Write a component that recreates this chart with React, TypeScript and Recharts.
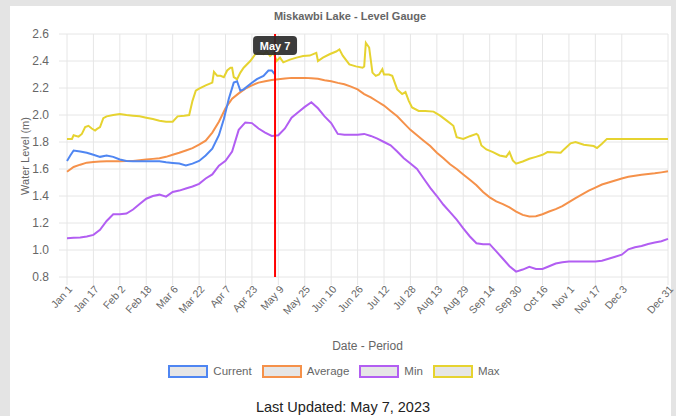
import { LineChart, Line, XAxis, YAxis, CartesianGrid, ReferenceLine } from 'recharts';

const FONT = '"Liberation Sans", Arial, Helvetica, sans-serif';

// day of year (Jan 1 = 0) for the x-axis ticks
const tickDays = [0, 16, 32, 48, 64, 80, 96, 112, 128, 144, 160, 176, 192, 208, 224, 240, 256, 272, 288, 304, 320, 336, 364];
const tickLabels = ['Jan 1', 'Jan 17', 'Feb 2', 'Feb 18', 'Mar 6', 'Mar 22', 'Apr 7', 'Apr 23', 'May 9', 'May 25', 'Jun 10', 'Jun 26', 'Jul 12', 'Jul 28', 'Aug 13', 'Aug 29', 'Sep 14', 'Sep 30', 'Oct 16', 'Nov 1', 'Nov 17', 'Dec 3', 'Dec 31'];
const levelTicks = [0.8, 1.0, 1.2, 1.4, 1.6, 1.8, 2.0, 2.2, 2.4, 2.6];

const days = [
  0, 4, 8, 12, 16, 20, 24, 28, 32, 36, 40, 44, 48, 52, 56, 60,
  64, 68, 72, 76, 80, 84, 88, 92, 96, 100, 104, 108, 112, 116, 120, 124,
  128, 132, 136, 140, 144, 148, 152, 156, 160, 164, 168, 172, 176, 180, 184, 188,
  192, 196, 200, 204, 208, 212, 216, 220, 224, 228, 232, 236, 240, 244, 248, 252,
  256, 260, 264, 268, 272, 276, 280, 284, 288, 292, 296, 300, 304, 308, 312, 316,
  320, 324, 328, 332, 336, 340, 344, 348, 352, 356, 360, 364,
];

const average = [
  1.58, 1.615, 1.632, 1.647, 1.652, 1.655, 1.657, 1.657,
  1.658, 1.66, 1.66, 1.665, 1.67, 1.675, 1.68, 1.69,
  1.705, 1.72, 1.737, 1.755, 1.78, 1.81, 1.87, 1.95,
  2.05, 2.12, 2.16, 2.195, 2.22, 2.24, 2.25, 2.26,
  2.265, 2.27, 2.275, 2.275, 2.275, 2.273, 2.268, 2.258,
  2.25, 2.238, 2.228, 2.21, 2.19, 2.155, 2.13, 2.1,
  2.07, 2.03, 1.99, 1.94, 1.89, 1.85, 1.81, 1.77,
  1.72, 1.68, 1.635, 1.6, 1.56, 1.52, 1.48, 1.43,
  1.39, 1.36, 1.34, 1.315, 1.285, 1.26, 1.248, 1.25,
  1.265, 1.285, 1.303, 1.325, 1.355, 1.385, 1.412, 1.44,
  1.462, 1.485, 1.5, 1.515, 1.53, 1.542, 1.55, 1.558,
  1.563, 1.568, 1.575, 1.583,
];

const minimum = [
  1.087, 1.09, 1.092, 1.1, 1.112, 1.15, 1.215, 1.264,
  1.264, 1.27, 1.3, 1.34, 1.38, 1.4, 1.41, 1.395,
  1.43, 1.44, 1.455, 1.47, 1.49, 1.53, 1.56, 1.625,
  1.66, 1.73, 1.89, 1.945, 1.94, 1.9, 1.87, 1.845,
  1.85, 1.9, 1.98, 2.02, 2.06, 2.095, 2.05, 1.99,
  1.94, 1.86, 1.853, 1.853, 1.853, 1.86, 1.845, 1.825,
  1.8, 1.775, 1.73, 1.68, 1.64, 1.6, 1.53, 1.46,
  1.4, 1.335, 1.28, 1.225, 1.16, 1.1, 1.05, 1.043,
  1.043, 0.99, 0.935, 0.88, 0.84, 0.855, 0.875, 0.86,
  0.86, 0.88, 0.9, 0.91, 0.915, 0.915, 0.915, 0.915,
  0.915, 0.92, 0.935, 0.95, 0.965, 1.005, 1.02, 1.03,
  1.045, 1.055, 1.065, 1.082,
];

const maxDays = [
  0, 3, 4, 7, 9, 11, 13, 15, 17, 18, 20, 22, 24, 28, 32, 36,
  40, 44, 48, 52, 56, 60, 64, 67, 71, 74, 76, 78, 80, 84, 88, 89,
  91, 93, 95, 97, 99, 100, 101, 103, 105, 107, 111, 114, 116, 119, 121, 123,
  125, 127, 129, 131, 135, 139, 143, 147, 151, 152, 155, 159, 163, 165, 167, 171,
  175, 179, 180, 181, 183, 185, 187, 189, 191, 192, 195, 197, 200, 203, 205, 207,
  209, 213, 217, 222, 226, 230, 234, 236, 240, 244, 248, 249, 251, 254, 258, 262,
  266, 268, 270, 272, 276, 280, 284, 288, 291, 299, 301, 305, 308, 313, 319, 321,
  324, 327, 364,
];
const maxLevels = [
  1.823, 1.823, 1.85, 1.84, 1.86, 1.91, 1.92, 1.9, 1.885, 1.895, 1.91, 1.976, 1.99, 2.0, 2.007, 2.0,
  1.995, 1.99, 1.98, 1.97, 1.958, 1.95, 1.95, 1.99, 1.995, 2.0, 2.105, 2.18, 2.196, 2.22, 2.24, 2.32,
  2.29, 2.29, 2.28, 2.33, 2.35, 2.35, 2.28, 2.265, 2.314, 2.35, 2.4, 2.45, 2.46, 2.45, 2.47, 2.437,
  2.46, 2.4, 2.425, 2.39, 2.41, 2.425, 2.437, 2.44, 2.46, 2.4, 2.425, 2.45, 2.47, 2.486, 2.44, 2.375,
  2.36, 2.35, 2.36, 2.535, 2.5, 2.314, 2.29, 2.3, 2.34, 2.3, 2.3, 2.29, 2.19, 2.155, 2.17, 2.105,
  2.056, 2.03, 2.03, 2.025, 1.995, 1.958, 1.92, 1.836, 1.823, 1.843, 1.86, 1.85, 1.774, 1.745, 1.725, 1.7,
  1.69, 1.725, 1.664, 1.64, 1.656, 1.676, 1.69, 1.705, 1.725, 1.72, 1.745, 1.79, 1.8, 1.78, 1.77, 1.755,
  1.787, 1.823, 1.823,
];

const currentDays = [0, 2, 4, 8, 12, 16, 20, 24, 28, 32, 36, 40, 48, 56, 60, 64, 68, 72, 76, 80, 84, 88, 92, 95, 98, 101, 103, 105, 107, 111, 115, 119, 122, 124, 126];
const currentLevels = [1.66, 1.7, 1.737, 1.73, 1.72, 1.705, 1.69, 1.7, 1.69, 1.67, 1.66, 1.657, 1.657, 1.657, 1.65, 1.645, 1.64, 1.627, 1.64, 1.66, 1.7, 1.75, 1.85, 1.97, 2.12, 2.24, 2.25, 2.18, 2.19, 2.23, 2.265, 2.29, 2.33, 2.33, 2.3];

const updatedDay = 126;
const updatedLabel = 'May 7';

const seriesNames = ['Current', 'Average', 'Min', 'Max'];
const seriesColors = ['#4f86f2', '#f5914a', '#b25ef2', '#e6d330'];

const rows = days.map((d, i) => ({ day: d, average: average[i], min: minimum[i] }));
const maxRows = maxDays.map((d, i) => ({ day: d, max: maxLevels[i] }));
const currentRows = currentDays.map((d, i) => ({ day: d, current: currentLevels[i] }));

const DateTick = ({ x, y, payload }: any) => (
  <text
    x={x + 3}
    y={y}
    transform={`rotate(-48, ${x + 3}, ${y})`}
    textAnchor="end"
    dominantBaseline="central"
    fontSize={10.5}
    fontFamily={FONT}
    fill="#666"
  >
    {tickLabels[tickDays.indexOf(payload.value)]}
  </text>
);

const TodayLabel = ({ viewBox }: any) => {
  const x = viewBox.x;
  return (
    <g>
      <rect x={x - 22} y={36} width={44} height={19} rx={4} fill="#2b2b2b" fillOpacity={0.92} />
      <text x={x} y={49.5} textAnchor="middle" fill="#fff" fontSize={11} fontWeight="bold" fontFamily={FONT}>
        {updatedLabel}
      </text>
    </g>
  );
};

export default function App() {
  return (
    <div style={{ position: 'fixed', left: 0, top: 0, width: 676, height: 416, background: '#e4e4e4', fontFamily: FONT, overflow: 'hidden' }}>
      <div style={{ position: 'absolute', left: 10, top: 6, width: 661, height: 410, background: '#fff' }} />
      <div style={{ position: 'absolute', left: 250, top: 10, width: 200, textAlign: 'center', fontSize: 11, fontWeight: 'bold', color: '#666' }}>
        Miskawbi Lake - Level Gauge
      </div>
      <div style={{ position: 'absolute', left: 25, top: 156, transform: 'translate(-50%, -50%) rotate(-90deg)', whiteSpace: 'nowrap', fontSize: 11, color: '#666' }}>
        Water Level (m)
      </div>
      <div style={{ position: 'absolute', left: 0, top: 0 }}>
        <LineChart width={676} height={340} data={rows} margin={{ top: 34, right: 8, left: 0, bottom: 0 }}>
          <CartesianGrid stroke="#e6e6e6" />
          <XAxis
            dataKey="day"
            type="number"
            domain={[0, 364]}
            ticks={tickDays}
            interval={0}
            height={63}
            axisLine={false}
            tickLine={{ stroke: '#e6e6e6' }}
            tickSize={8}
            tickMargin={2}
            tick={<DateTick />}
          />
          <YAxis
            type="number"
            domain={[0.8, 2.6]}
            ticks={levelTicks}
            interval={0}
            width={67}
            axisLine={false}
            tickLine={{ stroke: '#e6e6e6' }}
            tickSize={8}
            tickMargin={10}
            tickFormatter={(v: number) => v.toFixed(1)}
            tick={{ fontSize: 12, fill: '#666', fontFamily: FONT }}
          />
          <Line data={maxRows} dataKey="max" name="Max" stroke={seriesColors[3]} strokeWidth={2} dot={false} type="linear" isAnimationActive={false} />
          <Line dataKey="min" name="Min" stroke={seriesColors[2]} strokeWidth={2} dot={false} type="linear" isAnimationActive={false} />
          <Line dataKey="average" name="Average" stroke={seriesColors[1]} strokeWidth={2} dot={false} type="linear" isAnimationActive={false} />
          <Line data={currentRows} dataKey="current" name="Current" stroke={seriesColors[0]} strokeWidth={2} dot={false} type="linear" isAnimationActive={false} />
          <ReferenceLine x={updatedDay} stroke="#ff0000" strokeWidth={2} label={<TodayLabel />} />
        </LineChart>
      </div>
      <div style={{ position: 'absolute', left: 67, width: 601, top: 339, textAlign: 'center', fontSize: 12, color: '#666' }}>
        Date - Period
      </div>
      <div style={{ position: 'absolute', left: 0, width: 676, top: 365, display: 'flex', justifyContent: 'center', paddingLeft: 2, boxSizing: 'border-box' }}>
        {seriesNames.map((name, i) => (
          <div key={name} style={{ display: 'flex', alignItems: 'center', marginRight: 10 }}>
            <div style={{ width: 40, height: 13, boxSizing: 'border-box', border: `2px solid ${seriesColors[i]}`, background: '#e6e6e6', marginRight: 5 }} />
            <span style={{ fontSize: 11.5, color: '#666', lineHeight: '13px' }}>{name}</span>
          </div>
        ))}
      </div>
      <div style={{ position: 'absolute', left: 0, width: 686, top: 399, textAlign: 'center', fontSize: 14.5, color: '#222' }}>
        Last Updated: May 7, 2023
      </div>
    </div>
  );
}
